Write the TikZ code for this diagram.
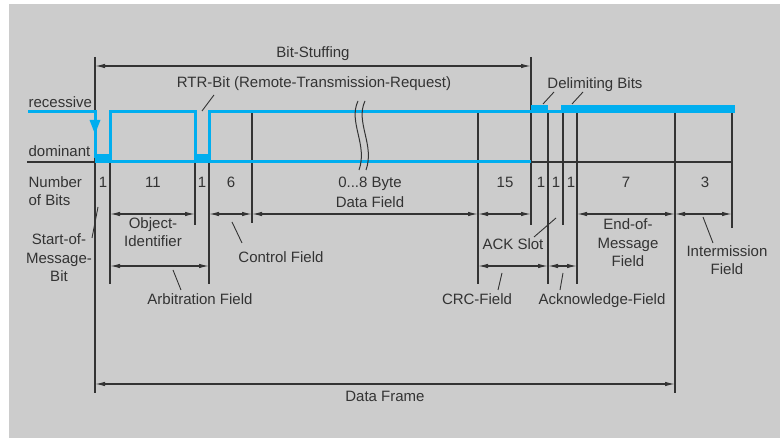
\documentclass[tikz,border=0pt]{standalone}
\usepackage{fontspec}
\setmainfont{Liberation Sans}
\usetikzlibrary{arrows.meta}
\definecolor{fondo}{HTML}{CCCCCC}
\definecolor{bus}{HTML}{00AEEF}
\definecolor{tinta}{HTML}{333333}

\begin{document}
\begin{tikzpicture}[x=1pt, y=-1pt, line width=1.2pt,
    lbl/.style={font=\fontsize{15}{18.5}\selectfont, text=tinta,
                inner sep=0pt, anchor=base, align=center},
    dimarrow/.style={tinta, {Latex[length=10pt,width=4.5pt]}-{Latex[length=10pt,width=4.5pt]}},
    leader/.style={tinta, line width=0.9pt},
    signal/.style={bus, line width=3pt}]
  \useasboundingbox (0,0) rectangle (780,438);
  \fill[fondo] (9,4) rectangle (780,438);

  % Lineas verticales de los campos
  \draw[tinta] (95,57) -- (95,393);
  \draw[tinta] (531,57) -- (531,225);
  \draw[tinta] (675,112) -- (675,393);
  \foreach \x/\yb in {110/284, 195/225, 209/284, 252/223, 478/284,
                      548/284, 563/225, 577/284, 732/228} {
    \draw[tinta] (\x,112) -- (\x,\yb);
  }

  % Linea base
  \draw[tinta] (27,162) -- (733,162);

  % Senal del bus (recesivo / dominante)
  \draw[signal] (28,111.5) -- (95,111.5) -- (95,158);
  \fill[bus] (89.5,120) -- (100.5,120) -- (95,134) -- cycle;
  \draw[signal] (95,161.5) -- (531,161.5);
  \fill[bus] (95,154) rectangle (110,163);
  \draw[signal] (110,161) -- (110,111.5) -- (195,111.5) -- (195,161);
  \fill[bus] (195,154) rectangle (209,163);
  \draw[signal] (209,161) -- (209,111.5) -- (531,111.5);
  \fill[bus] (531,105) rectangle (548,113);
  \draw[signal] (548,111.5) -- (562,111.5);
  \fill[bus] (561,105) rectangle (735,113);

  % Corte del campo de datos
  \draw[tinta, line width=1pt] (358,101) .. controls (348,122) and (368,145) .. (359,170);
  \draw[tinta, line width=1pt] (365,101) .. controls (355,122) and (375,145) .. (366,170);

  % Cotas
  \draw[dimarrow] (95,66) -- (531,66);
  \foreach \a/\b in {110/195, 209/252, 252/478, 478/531, 577/675, 675/732} {
    \draw[dimarrow] (\a,214) -- (\b,214);
  }
  \foreach \a/\b in {110/209, 478/548, 548/577} {
    \draw[dimarrow] (\a,266) -- (\b,266);
  }
  \draw[dimarrow] (95,384) -- (675,384);

  % Lineas de referencia
  \draw[leader] (214,95) -- (202,111);
  \draw[leader] (554,92) -- (543,104);
  \draw[leader] (583,92) -- (572,104);
  \draw[leader] (98,207) -- (92,238);
  \draw[leader] (232,222) -- (242,243);
  \draw[leader] (173,270) -- (181,290);
  \draw[leader] (502,273) -- (498,290);
  \draw[leader] (556,218) -- (534,237);
  \draw[leader] (563,273) -- (560,290);
  \draw[leader] (703,217) -- (713,243);

  % Textos (en varias lineas: y de la ultima linea)
  \node[lbl, anchor=base west] (recessive) at (28,108) {recessive};
  \node[lbl, anchor=base west] (dominant) at (28,157) {dominant};
  \node[lbl] (stuffing) at (313,58) {Bit-Stuffing};
  \node[lbl] (rtr) at (314,88) {RTR-Bit (Remote-Transmission-Request)};
  \node[lbl] (delim) at (595,89) {Delimiting Bits};
  \node[lbl, anchor=base west, align=left] (nbits) at (28,206) {Number\\of Bits};
  \foreach \x/\n/\t in {103/b1/1, 153/b2/11, 202/b3/1, 231/b4/6, 505/b5/15,
                        541/b6/1, 556/b7/1, 571/b8/1, 626/b9/7, 705/b10/3} {
    \node[lbl] (\n) at (\x,188) {\t};
  }
  \node[lbl] (bytes) at (370,188) {0...8 Byte};
  \node[lbl] (datafield) at (370,208) {Data Field};
  \node[lbl] (objid) at (153,247) {Object-\\Identifier};
  \node[lbl] (sof) at (59,282) {Start-of-\\Message-\\Bit};
  \node[lbl] (control) at (281,263) {Control Field};
  \node[lbl] (arbit) at (200,305) {Arbitration Field};
  \node[lbl] (crc) at (477,305) {CRC-Field};
  \node[lbl] (ackslot) at (513,250) {ACK Slot};
  \node[lbl] (ackfield) at (602,305) {Acknowledge-Field};
  \node[lbl] (eom) at (628,267) {End-of-\\Message\\Field};
  \node[lbl] (inter) at (727,275) {Intermission\\Field};
  \node[lbl] (frame) at (385,402) {Data Frame};
\end{tikzpicture}
\end{document}
